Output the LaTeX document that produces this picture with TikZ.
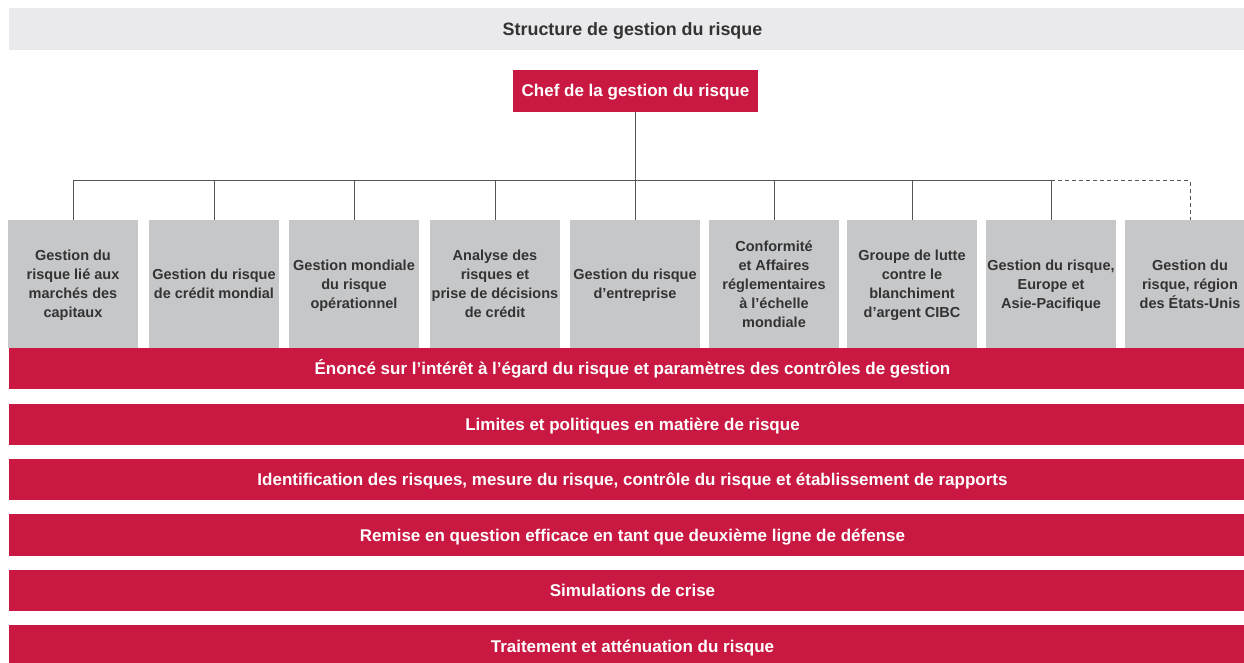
\documentclass[tikz,border=0pt]{standalone}
\usepackage{fontspec}
\setmainfont{Liberation Sans}
\usetikzlibrary{positioning,calc}

\definecolor{cibcred}{HTML}{C91842}
\definecolor{unitgray}{HTML}{C6C7C9}
\definecolor{headgray}{HTML}{EAEAEC}
\definecolor{inkgray}{HTML}{333333}
\definecolor{linegray}{HTML}{555555}

\begin{document}
\begin{tikzpicture}[
  x=1pt, y=-1pt,
  font=\bfseries\fontsize{17}{20}\selectfont,
  heading/.style={fill=headgray, text=inkgray, inner sep=0pt, minimum width=1247pt, minimum height=42pt,
    text height=12.5pt, text depth=0pt, font=\bfseries\fontsize{17.9}{20}\selectfont},
  chief/.style={fill=cibcred, text=white, inner sep=0pt, minimum width=245pt, minimum height=42pt,
    text height=12pt, text depth=0pt},
  unit/.style={fill=unitgray, text=inkgray, align=center, inner sep=0pt, minimum width=130pt, minimum height=128pt,
    text depth=0pt, font=\bfseries\fontsize{14.5}{19}\selectfont},
  bar/.style={fill=cibcred, text=white, inner sep=0pt, minimum width=1247pt, minimum height=41.5pt,
    text height=12pt, text depth=0pt},
  link/.style={draw=linegray, line width=1pt}
]
  \useasboundingbox (0,0) rectangle (1244,663);
  \clip (0,0) rectangle (1244,663);

  \node[heading] (titre) at (632.5,29) {Structure de gestion du risque};
  \node[chief] (chef) at (635.5,91) {Chef de la gestion du risque};

  % unites
  \node[unit] (marches) at (73,284) {Gestion du\\risque lié aux\\marchés des\\capitaux};
  \node[unit] (credit) at (214,284) {Gestion du risque\\de crédit mondial};
  \node[unit] (operationnel) at (354,284) {Gestion mondiale\\du risque\\opérationnel};
  \node[unit] (decisions) at (495,284) {Analyse des\\risques et\\prise de décisions\\de crédit};
  \node[unit] (entreprise) at (635,284) {Gestion du risque\\d’entreprise};
  \node[unit] (conformite) at (774,284) {Conformité\\et Affaires\\réglementaires\\à l’échelle\\mondiale};
  \node[unit] (blanchiment) at (912,284) {Groupe de lutte\\contre le\\blanchiment\\d’argent CIBC};
  \node[unit] (europe) at (1051,284) {Gestion du risque,\\Europe et\\Asie-Pacifique};
  \node[unit] (etatsunis) at (1190,284) {Gestion du\\risque, région\\des États-Unis};

  % bandes
  \node[bar] (appetit) at (632.5,368.5) {Énoncé sur l’intérêt à l’égard du risque et paramètres des contrôles de gestion};
  \node[bar] (limites) at (632.5,424.5) {Limites et politiques en matière de risque};
  \node[bar] (identification) at (632.5,479.5) {Identification des risques, mesure du risque, contrôle du risque et établissement de rapports};
  \node[bar] (remise) at (632.5,535) {Remise en question efficace en tant que deuxième ligne de défense};
  \node[bar] (simulations) at (632.5,590.5) {Simulations de crise};
  \node[bar] (traitement) at (632.5,646) {Traitement et atténuation du risque};

  \coordinate (bus) at (635,181);
  \draw[link] (chef.south) -- (chef.south |- bus);
  \draw[link] (marches.north |- bus) -- (europe.north |- bus);
  \draw[link] (marches.north) -- (marches.north |- bus);
  \draw[link] (credit.north) -- (credit.north |- bus);
  \draw[link] (operationnel.north) -- (operationnel.north |- bus);
  \draw[link] (decisions.north) -- (decisions.north |- bus);
  \draw[link] (entreprise.north) -- (entreprise.north |- bus);
  \draw[link] (conformite.north) -- (conformite.north |- bus);
  \draw[link] (blanchiment.north) -- (blanchiment.north |- bus);
  \draw[link] (europe.north) -- (europe.north |- bus);
  \draw[link, dash pattern=on 4pt off 3pt] (europe.north |- bus) -| (etatsunis.north);
\end{tikzpicture}
\end{document}
